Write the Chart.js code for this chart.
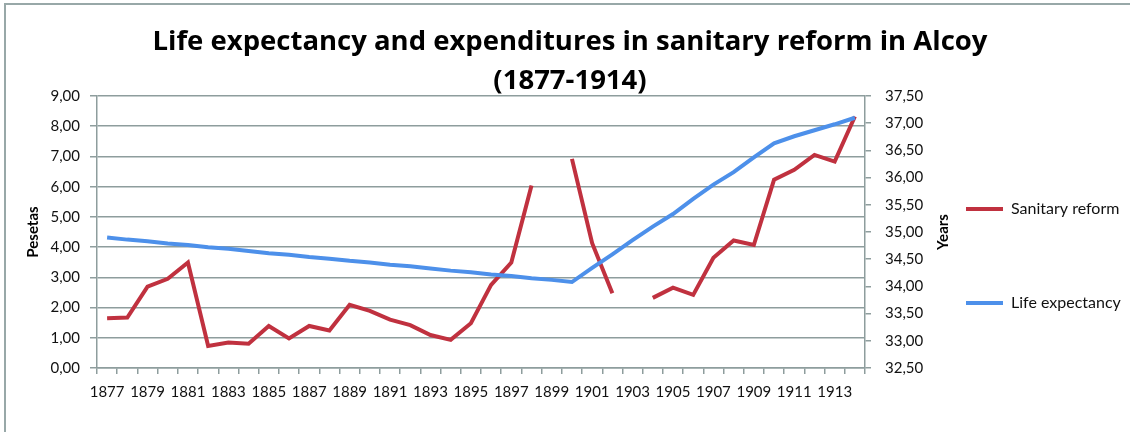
<!DOCTYPE html>
<html>
<head>
<meta charset="utf-8">
<script src="https://cdn.jsdelivr.net/npm/chart.js@4"></script>
<style>
  html, body { margin: 0; padding: 0; background: #fff; }
  #wrap { width: 1130px; height: 432px; position: relative; }
</style>
</head>
<body>
<div id="wrap"><canvas id="chart" width="1130" height="432"></canvas></div>
<script>
// values
const years = []
for (let y = 1877; y <= 1914; y++) years.push(String(y))

const sanitaryReform = [
  1.65, 1.67, 2.69, 2.95, 3.49, 0.73, 0.84, 0.80, 1.39, 0.98,
  1.39, 1.24, 2.09, 1.89, 1.60, 1.42, 1.09, 0.93, 1.48, 2.75,
  3.49, 6.04, null, 6.92, 4.13, 2.47, null, 2.32, 2.66, 2.42,
  3.65, 4.22, 4.07, 6.23, 6.56, 7.05, 6.83, 8.32
]

const lifeExpectancy = [
  34.90, 34.86, 34.83, 34.79, 34.76, 34.72, 34.69, 34.65, 34.61, 34.58,
  34.54, 34.51, 34.47, 34.44, 34.40, 34.37, 34.33, 34.29, 34.26, 34.22,
  34.19, 34.15, 34.12, 34.08, 34.34, 34.59, 34.85, 35.10, 35.33, 35.61,
  35.87, 36.10, 36.37, 36.63, 36.76, 36.87, 36.98, 37.10
]

const titleLines = ['Life expectancy and expenditures in sanitary reform in Alcoy', '(1877-1914)']

const FONT = 'Lato, "Open Sans", sans-serif'
const TITLE_FONT = '"Open Sans", Lato, sans-serif'
const GRID = '#8e9d9d'
const RED = '#c0313f'
const BLUE = '#4d90ea'

const comma = v => v.toFixed(2).replace('.', ',')

// frame, title and the right axis label
const decorations = {
  id: 'decorations',
  beforeDraw(chart) {
    const ctx = chart.ctx
    ctx.save()
    ctx.strokeStyle = '#98a8a8'
    ctx.lineWidth = 2
    ctx.beginPath()
    ctx.moveTo(5, 432)
    ctx.lineTo(5, 4)
    ctx.lineTo(1130, 4)
    ctx.stroke()
    ctx.restore()
  },
  afterDraw(chart) {
    const ctx = chart.ctx
    ctx.save()
    ctx.fillStyle = '#000'
    ctx.textAlign = 'center'
    ctx.textBaseline = 'alphabetic'
    ctx.font = 'bold 27.5px ' + TITLE_FONT
    ctx.fillText(titleLines[0], 570, 49.5)
    ctx.fillText(titleLines[1], 570, 89)

    const y = chart.scales.y
    ctx.translate(943, (y.top + y.bottom) / 2)
    ctx.rotate(-Math.PI / 2)
    ctx.textBaseline = 'middle'
    ctx.font = 'bold 15px ' + FONT
    ctx.fillText('Years', 0, 0)
    ctx.restore()
  }
}

new Chart(document.getElementById('chart'), {
  type: 'line',
  data: {
    labels: years,
    datasets: [
      {
        label: 'Sanitary reform',
        data: sanitaryReform,
        yAxisID: 'y',
        borderColor: RED,
        backgroundColor: RED,
        borderWidth: 4,
        pointRadius: 0,
        tension: 0,
        spanGaps: false,
        order: 1
      },
      {
        label: 'Life expectancy',
        data: lifeExpectancy,
        yAxisID: 'y1',
        borderColor: BLUE,
        backgroundColor: BLUE,
        borderWidth: 4,
        pointRadius: 0,
        tension: 0,
        order: 0
      }
    ]
  },
  plugins: [decorations],
  options: {
    responsive: false,
    animation: false,
    layout: { padding: { top: 96, left: 0, right: 0, bottom: 16 } },
    plugins: {
      title: { display: false },
      tooltip: { enabled: false },
      legend: {
        position: 'right',
        align: 'center',
        maxWidth: 195,
        labels: {
          usePointStyle: true,
          pointStyle: 'line',
          pointStyleWidth: 37,
          padding: 31,
          color: '#111',
          font: { family: FONT, size: 16 },
          // keep dataset order and leave an empty slot between the two entries
          generateLabels: chart => {
            const items = Chart.defaults.plugins.legend.labels.generateLabels(chart)
              .sort((a, b) => a.datasetIndex - b.datasetIndex)
            items.splice(1, 0, {
              text: '',
              fillStyle: 'rgba(0,0,0,0)',
              strokeStyle: 'rgba(0,0,0,0)',
              lineWidth: 0,
              pointStyle: 'line',
              hidden: false
            })
            return items
          }
        }
      }
    },
    scales: {
      x: {
        offset: true,
        grid: { offset: true, drawOnChartArea: false, drawTicks: true, tickLength: 6, color: GRID, lineWidth: 1.5 },
        border: { color: GRID, width: 1.5 },
        ticks: {
          autoSkip: false,
          maxRotation: 0,
          padding: 9,
          color: '#111',
          font: { family: FONT, size: 15 },
          callback: (v, i) => (i % 2 === 0 ? years[i] : '')
        },
        afterFit: s => { s.height = 48 }
      },
      y: {
        position: 'left',
        min: 0,
        max: 9,
        grid: { color: GRID, lineWidth: 1.5, tickLength: 7 },
        border: { color: GRID, width: 1.5 },
        ticks: {
          stepSize: 1,
          padding: 10,
          color: '#111',
          font: { family: FONT, size: 15 },
          callback: v => comma(v)
        },
        title: {
          display: true,
          text: 'Pesetas',
          color: '#000',
          font: { family: FONT, size: 15, weight: 'bold' },
          padding: { top: 24, bottom: 0 }
        },
        afterFit: s => { s.width = 97 }
      },
      y1: {
        position: 'right',
        min: 32.5,
        max: 37.5,
        grid: { drawOnChartArea: false, color: GRID, lineWidth: 1.5, tickLength: 6 },
        border: { color: GRID, width: 1.5 },
        ticks: {
          stepSize: 0.5,
          padding: 14,
          color: '#111',
          font: { family: FONT, size: 15 },
          callback: v => comma(v)
        },
        afterFit: s => { s.width = 70 }
      }
    }
  }
})
</script>
</body>
</html>
